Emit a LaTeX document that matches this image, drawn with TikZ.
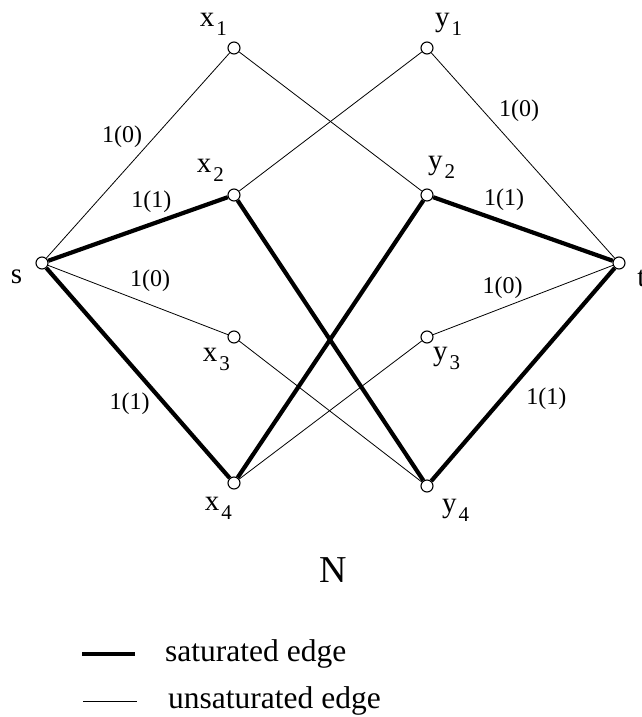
\documentclass[tikz,border=0pt]{standalone}
\usepackage{fontspec}
\setmainfont{Liberation Serif}
\usetikzlibrary{positioning}
\newcommand{\vlab}[2]{#1\kern2pt\raisebox{-9pt}{\fontsize{21}{21}\selectfont #2}}

\begin{document}
\begin{tikzpicture}[x=1pt,y=-1pt,
  vtx/.style={circle,draw,fill=white,line width=1.1pt,minimum size=12pt,inner sep=0pt},
  vl/.style={font=\fontsize{29}{29}\selectfont,inner sep=0pt},
  el/.style={font=\fontsize{24}{24}\selectfont,inner sep=1pt},
  sat/.style={line width=4.2pt},
  unsat/.style={line width=0.8pt},
  legtxt/.style={font=\fontsize{31.5}{31.5}\selectfont,inner sep=0pt}]
  \useasboundingbox (0,0) rectangle (642,717);
  % vertices
  \node[vtx] (s) at (42,263) {};
  \node[vtx] (x1) at (234,48) {};
  \node[vtx] (x2) at (234,195) {};
  \node[vtx] (x3) at (234,337) {};
  \node[vtx] (x4) at (234,483) {};
  \node[vtx] (y1) at (427,48) {};
  \node[vtx] (y2) at (427,195) {};
  \node[vtx] (y3) at (427,337) {};
  \node[vtx] (y4) at (427,486) {};
  \node[vtx] (t) at (619,263) {};
  % vertex names
  \node[vl,below left=2pt and 15pt of s] (sl) {s};
  \node[vl,below right=2pt and 13.5pt of t] (tl) {t};
  \node[vl,above left=7.4pt and 2.4pt of x1] (x1l) {\vlab{x}{1}};
  \node[vl,above left=8.4pt and 5.4pt of x2] (x2l) {\vlab{x}{2}};
  \node[vl,below left=6.1pt and -0.6pt of x3] (x3l) {\vlab{x}{3}};
  \node[vl,below left=9.1pt and -2.6pt of x4] (x4l) {\vlab{x}{4}};
  \node[vl,above right=7.4pt and 3.4pt of y1] (y1l) {\vlab{y}{1}};
  \node[vl,above right=12pt and -3.6pt of y2] (y2l) {\vlab{y}{2}};
  \node[vl,below right=5.1pt and 1.4pt of y3] (y3l) {\vlab{y}{3}};
  \node[vl,below right=8.1pt and 10.4pt of y4] (y4l) {\vlab{y}{4}};
  % edges with capacity(flow)
  \draw[unsat] (s) -- node[el,pos=0.53,anchor=south east] {1(0)} (x1);
  \draw[sat] (s) -- node[el,pos=0.575,above=9pt] {1(1)} (x2);
  \draw[unsat] (s) -- node[el,pos=0.448,anchor=south west,yshift=3pt] {1(0)} (x3);
  \draw[sat] (s) -- node[el,pos=0.58,anchor=north east] {1(1)} (x4);
  \draw[unsat] (x1) -- (y2);
  \draw[unsat] (x2) -- (y1);
  \draw[sat] (x2) -- (y4);
  \draw[unsat] (x3) -- (y4);
  \draw[sat] (x4) -- (y2);
  \draw[unsat] (x4) -- (y3);
  \draw[unsat] (y1) -- node[el,pos=0.34,anchor=south west,xshift=4pt] {1(0)} (t);
  \draw[sat] (y2) -- node[el,pos=0.266,anchor=south west] {1(1)} (t);
  \draw[unsat] (y3) -- node[el,pos=0.505,anchor=south east] {1(0)} (t);
  \draw[sat] (y4) -- node[el,pos=0.45,anchor=north west,xshift=9.5pt] {1(1)} (t);
  % network name
  \node[font=\fontsize{38}{38}\selectfont,inner sep=0pt] (N) at (333.5,570.5) {N};
  % legend
  \coordinate (satA) at (82,654);
  \coordinate (satB) at (135,654);
  \coordinate (unsA) at (83,701);
  \coordinate (unsB) at (137,701);
  \draw[sat] (satA) -- (satB);
  \node[legtxt,right=30pt of satB] (satl) {saturated edge};
  \draw[unsat] (unsA) -- (unsB);
  \node[legtxt,right=31pt of unsB] (unsl) {unsaturated edge};
\end{tikzpicture}
\end{document}
